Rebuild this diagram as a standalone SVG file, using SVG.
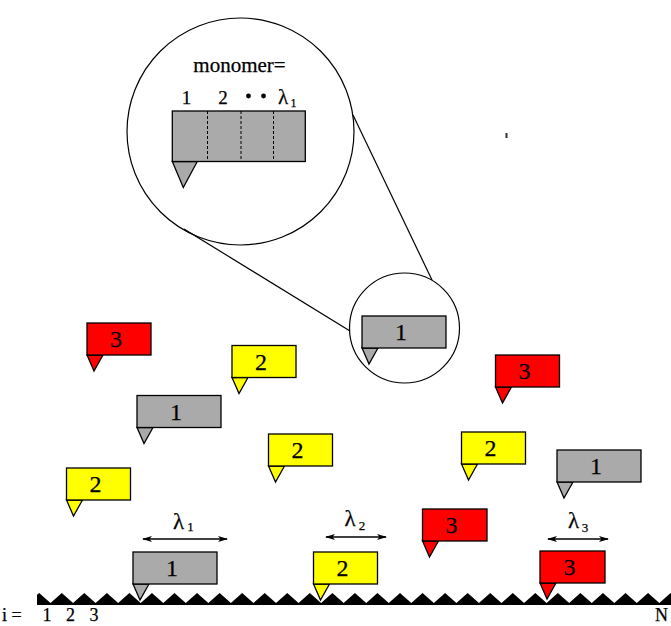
<svg xmlns="http://www.w3.org/2000/svg" width="671" height="626" viewBox="0 0 671 626">
  <defs>
    <style>
      text { font-family: "Liberation Serif", "Times New Roman", serif; fill: #000; stroke: #000; stroke-width: 0.25; }
      .box { stroke: #000; stroke-width: 1.3; }
      .gray { fill: #aaaaaa; }
      .red { fill: #ff0000; }
      .yellow { fill: #ffff00; }
      .lbl { font-size: 24px; text-anchor: middle; }
      .thin { fill: none; stroke: #000; stroke-width: 1.2; }
      .dim { fill: none; stroke: #000; stroke-width: 1.5; }
      .lam { font-size: 23px; }
      .sub { font-size: 13px; }
    </style>
    <marker id="ah" viewBox="0 0 10 6" refX="9" refY="3" markerWidth="10" markerHeight="6" markerUnits="userSpaceOnUse" orient="auto-start-reverse">
      <path d="M0,0 L10,3 L0,6 L2.5,3 Z" fill="#000"/>
    </marker>
  </defs>

  <rect width="671" height="626" fill="#fff"/>

  <!-- magnifier circles and the lines joining them -->
  <g id="connectors">
    <circle cx="240.5" cy="131.5" r="113.5" class="thin"/>
    <circle cx="404.5" cy="328" r="55" class="thin"/>
    <line x1="184" y1="229" x2="350" y2="331" class="thin"/>
    <line x1="353" y1="115" x2="432" y2="280" class="thin"/>
    <!-- length markers -->
    <line x1="143" y1="539" x2="227" y2="539" class="dim" marker-start="url(#ah)" marker-end="url(#ah)"/>
    <line x1="326" y1="537" x2="386" y2="537" class="dim" marker-start="url(#ah)" marker-end="url(#ah)"/>
    <line x1="548" y1="539" x2="608" y2="539" class="dim" marker-start="url(#ah)" marker-end="url(#ah)"/>
  </g>

  <!-- enlarged monomer -->
  <g id="monomer-detail">
    <text x="239.5" y="72" font-size="21" text-anchor="middle">monomer=</text>
    <text x="186.5" y="103.5" font-size="19" text-anchor="middle">1</text>
    <text x="223" y="103.5" font-size="19" text-anchor="middle">2</text>
    <circle cx="248.5" cy="96" r="2.4" fill="#000"/>
    <circle cx="263.5" cy="96" r="2.4" fill="#000"/>
    <text x="283" y="103.5" font-size="21" text-anchor="middle">λ</text>
    <text x="293.5" y="107" font-size="12" text-anchor="middle">1</text>
    <path d="M172.3,161.5 L197.3,161.5 L183.3,187.5 Z" class="box gray"/>
    <rect x="172.3" y="111" width="133" height="50.5" class="box gray"/>
    <g stroke="#000" stroke-width="1" stroke-dasharray="3,2">
      <line x1="207.5" y1="111" x2="207.5" y2="161.5"/>
      <line x1="241" y1="111" x2="241" y2="161.5"/>
      <line x1="273.5" y1="111" x2="273.5" y2="161.5"/>
    </g>
  </g>

  <rect id="mark" x="505.5" y="133" width="2" height="5" fill="#333"/>

  <!-- monomers: pointer, body, species number -->
  <g id="m1" transform="translate(87,323)">
    <path d="M0,32 L16,32 L7,48 Z" class="box red"/>
    <rect width="64" height="32" class="box red"/>
    <text x="29" y="24" class="lbl">3</text>
  </g>
  <g id="m2" transform="translate(232,345.5)">
    <path d="M0,32 L16,32 L7,48 Z" class="box yellow"/>
    <rect width="64" height="32" class="box yellow"/>
    <text x="29" y="24" class="lbl">2</text>
  </g>
  <g id="m3" transform="translate(137,395.5)">
    <path d="M0,32 L16,32 L7,48 Z" class="box gray"/>
    <rect width="84" height="32" class="box gray"/>
    <text x="39" y="24" class="lbl">1</text>
  </g>
  <g id="m4" transform="translate(268.5,434)">
    <path d="M0,32 L16,32 L7,48 Z" class="box yellow"/>
    <rect width="64" height="32" class="box yellow"/>
    <text x="29" y="24" class="lbl">2</text>
  </g>
  <g id="m5" transform="translate(66.5,468)">
    <path d="M0,32 L16,32 L7,48 Z" class="box yellow"/>
    <rect width="64" height="32" class="box yellow"/>
    <text x="29" y="24" class="lbl">2</text>
  </g>
  <g id="m6" transform="translate(362,316)">
    <path d="M0,32 L16,32 L7,48 Z" class="box gray"/>
    <rect width="84" height="32" class="box gray"/>
    <text x="39" y="24" class="lbl">1</text>
  </g>
  <g id="m7" transform="translate(495.5,355)">
    <path d="M0,32 L16,32 L7,48 Z" class="box red"/>
    <rect width="64" height="32" class="box red"/>
    <text x="29" y="24" class="lbl">3</text>
  </g>
  <g id="m8" transform="translate(461.5,432)">
    <path d="M0,32 L16,32 L7,48 Z" class="box yellow"/>
    <rect width="64" height="32" class="box yellow"/>
    <text x="29" y="24" class="lbl">2</text>
  </g>
  <g id="m9" transform="translate(557,450)">
    <path d="M0,32 L16,32 L7,48 Z" class="box gray"/>
    <rect width="84" height="32" class="box gray"/>
    <text x="39" y="24" class="lbl">1</text>
  </g>
  <g id="m10" transform="translate(422.5,509)">
    <path d="M0,32 L16,32 L7,48 Z" class="box red"/>
    <rect width="64.5" height="32" class="box red"/>
    <text x="29" y="24" class="lbl">3</text>
  </g>
  <g id="m11" transform="translate(133,552)">
    <path d="M0,32 L16,32 L7,48 Z" class="box gray"/>
    <rect width="84" height="32" class="box gray"/>
    <text x="39" y="24" class="lbl">1</text>
  </g>
  <g id="m12" transform="translate(313.5,552)">
    <path d="M0,32 L16,32 L7,48 Z" class="box yellow"/>
    <rect width="64" height="32" class="box yellow"/>
    <text x="29" y="24" class="lbl">2</text>
  </g>
  <g id="m13" transform="translate(540,551)">
    <path d="M0,32 L16,32 L7,48 Z" class="box red"/>
    <rect width="65" height="32" class="box red"/>
    <text x="29.5" y="24" class="lbl">3</text>
  </g>

  <!-- length labels -->
  <g id="lambda1">
    <text x="178.5" y="528.5" class="lam" text-anchor="middle">λ</text>
    <text x="190.5" y="531" class="sub" text-anchor="middle">1</text>
  </g>
  <g id="lambda2">
    <text x="350" y="525.5" class="lam" text-anchor="middle">λ</text>
    <text x="362" y="529.5" class="sub" text-anchor="middle">2</text>
  </g>
  <g id="lambda3">
    <text x="573.5" y="527.5" class="lam" text-anchor="middle">λ</text>
    <text x="585" y="532" class="sub" text-anchor="middle">3</text>
  </g>

  <!-- lattice surface: sawtooth with period 22.55, sites at the valleys -->
  <path id="lattice" fill="#000" d="M37,605 L37,594.7
    L39.2,593 L50.5,603 L61.8,593 L73.05,603 L84.3,593 L95.6,603 L106.9,593 L118.15,603 L129.4,593 L140.7,603
    L151.95,593 L163.25,603 L174.5,593 L185.8,603 L197.05,593 L208.35,603 L219.6,593 L230.9,603 L242.15,593 L253.45,603
    L264.7,593 L276,603 L287.25,593 L298.55,603 L309.8,593 L321.1,603 L332.35,593 L343.65,603 L354.9,593 L366.2,603
    L377.45,593 L388.75,603 L400,593 L411.3,603 L422.55,593 L433.85,603 L445.1,593 L456.4,603 L467.65,593 L478.95,603
    L490.2,593 L501.5,603 L512.75,593 L524.05,603 L535.3,593 L546.6,603 L557.85,593 L569.15,603 L580.4,593 L591.7,603
    L602.95,593 L614.25,603 L625.5,593 L636.8,603 L648.05,593 L659.35,603 L670.6,593 L671,593.4 L671,605 Z"/>

  <g id="axis-labels" font-size="18">
    <text x="2" y="621">i =</text>
    <text x="47" y="621" text-anchor="middle">1</text>
    <text x="70.5" y="621" text-anchor="middle">2</text>
    <text x="94" y="621" text-anchor="middle">3</text>
    <text x="661.5" y="621" text-anchor="middle">N</text>
  </g>
</svg>
